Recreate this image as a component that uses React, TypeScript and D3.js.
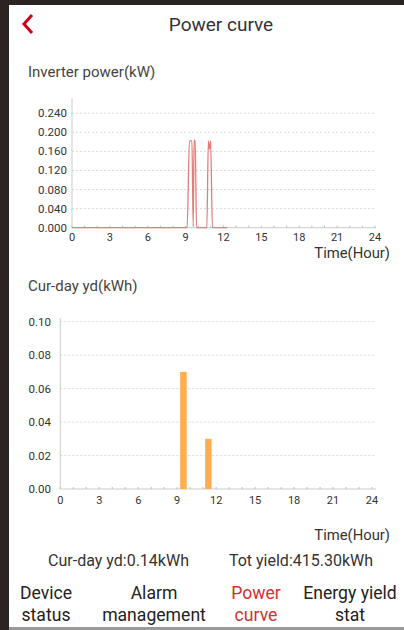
import React from "react";
import * as d3 from "d3";

const powerHours = [0, 9.12, 9.3, 9.5, 9.6, 9.67, 9.76, 9.86, 10.68, 10.8, 10.88, 10.98, 11.12, 12.3];
const powerValues = [0, 0, 0.182, 0.182, 0.002, 0.183, 0.183, 0, 0, 0.182, 0.165, 0.182, 0, 0];
const powerTicks = [0, 0.04, 0.08, 0.12, 0.16, 0.2, 0.24];

const yieldHours = [9.48, 11.4];
const yieldValues = [0.07, 0.03];
const yieldTicks = [0, 0.02, 0.04, 0.06, 0.08, 0.1];

const hourTicks = [0, 3, 6, 9, 12, 15, 18, 21, 24];
const minorHours = d3.range(0, 25);

const tabs = [
  { l1: "Device", l2: "status", x: 46, active: false },
  { l1: "Alarm", l2: "management", x: 154, active: false },
  { l1: "Power", l2: "curve", x: 256, active: true },
  { l1: "Energy yield", l2: "stat", x: 350, active: false },
];

const FONT = "Roboto, 'Noto Sans', sans-serif";

export default function App() {
  // chart 1
  const x1 = d3.scaleLinear().domain([0, 24]).range([72, 375]);
  const y1 = d3.scaleLinear().domain([0, 0.272]).range([227.7, 98]);
  const line = d3
    .line<number>()
    .x((_, i) => x1(powerHours[i]))
    .y((d) => y1(d))
    .curve(d3.curveMonotoneX);
  const pathD = line(powerValues) || "";

  // chart 2
  const x2 = d3.scaleLinear().domain([0, 24]).range([60.3, 372]);
  const y2 = d3.scaleLinear().domain([0, 0.1]).range([489, 321.7]);
  const barW = x2(0.5) - x2(0);

  const gridEnd = 376;

  return (
    <svg
      width={404}
      height={630}
      style={{ position: "absolute", left: 0, top: 0, background: "#fff", fontFamily: FONT }}
    >
      <rect x={0} y={0} width={404} height={630} fill="#fff" />
      {/* frame */}
      <rect x={0} y={0} width={404} height={5} fill="#2b2422" />
      <rect x={0} y={0} width={9} height={630} fill="#2b2422" />
      <rect x={9} y={627} width={395} height={3} fill="#9a9a9a" />

      {/* header */}
      <polyline points="32,15 24,24 32,33" fill="none" stroke="#d0021b" strokeWidth={3} />
      <text x={221} y={24} textAnchor="middle" dominantBaseline="central" fontSize={19} fill="#333">
        Power curve
      </text>

      {/* chart 1 */}
      <text x={28} y={72} dominantBaseline="central" fontSize={15} fill="#444">
        Inverter power(kW)
      </text>
      {powerTicks.map((t) => (
        <g key={"p" + t}>
          {t > 0 && (
            <line x1={x1(0)} x2={gridEnd} y1={y1(t)} y2={y1(t)} stroke="#cfcfcf" strokeWidth={0.8} strokeDasharray="2,2" />
          )}
          <text x={67} y={y1(t)} textAnchor="end" dominantBaseline="central" fontSize={11.5} fill="#333">
            {t.toFixed(3)}
          </text>
        </g>
      ))}
      <line x1={x1(0)} x2={x1(0)} y1={y1(0.272)} y2={y1(0)} stroke="#ccc" strokeWidth={1} />
      <line x1={x1(0)} x2={gridEnd} y1={y1(0)} y2={y1(0)} stroke="#ccc" strokeWidth={1} />
      {minorHours.map((h) => (
        <line key={"m1" + h} x1={x1(h)} x2={x1(h)} y1={y1(0)} y2={y1(0) - 2} stroke="#bbb" strokeWidth={1} />
      ))}
      {hourTicks.map((h) => (
        <text key={"h1" + h} x={x1(h)} y={237} textAnchor="middle" dominantBaseline="central" fontSize={11} fill="#333">
          {h}
        </text>
      ))}
      <text x={390} y={252.5} textAnchor="end" dominantBaseline="central" fontSize={14.8} fill="#333">
        Time(Hour)
      </text>
      <path d={pathD} fill="none" stroke="#e57c7c" strokeWidth={1.3} />

      {/* chart 2 */}
      <text x={28} y={286} dominantBaseline="central" fontSize={15} fill="#444">
        Cur-day yd(kWh)
      </text>
      {yieldTicks.map((t) => (
        <g key={"y" + t}>
          {t > 0 && (
            <line x1={x2(0)} x2={gridEnd} y1={y2(t)} y2={y2(t)} stroke="#cfcfcf" strokeWidth={0.8} strokeDasharray="2,2" />
          )}
          <text x={51} y={y2(t)} textAnchor="end" dominantBaseline="central" fontSize={11.5} fill="#333">
            {t.toFixed(2)}
          </text>
        </g>
      ))}
      <line x1={x2(0)} x2={x2(0)} y1={318} y2={y2(0)} stroke="#ccc" strokeWidth={1} />
      <line x1={x2(0)} x2={gridEnd} y1={y2(0)} y2={y2(0)} stroke="#ccc" strokeWidth={1} />
      {minorHours.map((h) => (
        <line key={"m2" + h} x1={x2(h)} x2={x2(h)} y1={y2(0)} y2={y2(0) - 2} stroke="#bbb" strokeWidth={1} />
      ))}
      {hourTicks.map((h) => (
        <text key={"h2" + h} x={x2(h)} y={500} textAnchor="middle" dominantBaseline="central" fontSize={11} fill="#333">
          {h}
        </text>
      ))}
      <text x={390} y={535} textAnchor="end" dominantBaseline="central" fontSize={14.8} fill="#333">
        Time(Hour)
      </text>
      {yieldHours.map((h, i) => (
        <rect
          key={"b" + h}
          x={x2(h) - barW / 2}
          y={y2(yieldValues[i])}
          width={barW}
          height={y2(0) - y2(yieldValues[i])}
          fill="#ffae4f"
        />
      ))}

      {/* summary */}
      <text x={118.5} y={560} textAnchor="middle" dominantBaseline="central" fontSize={16} fill="#333">
        Cur-day yd:0.14kWh
      </text>
      <text x={301} y={560} textAnchor="middle" dominantBaseline="central" fontSize={16} fill="#333">
        Tot yield:415.30kWh
      </text>

      {/* tabs */}
      {tabs.map((t) => (
        <g key={t.l1} fill={t.active ? "#d32f2f" : "#222"} fontSize={17.6}>
          <text x={t.x} y={593} textAnchor="middle" dominantBaseline="central">
            {t.l1}
          </text>
          <text x={t.x} y={615} textAnchor="middle" dominantBaseline="central">
            {t.l2}
          </text>
        </g>
      ))}
    </svg>
  );
}
